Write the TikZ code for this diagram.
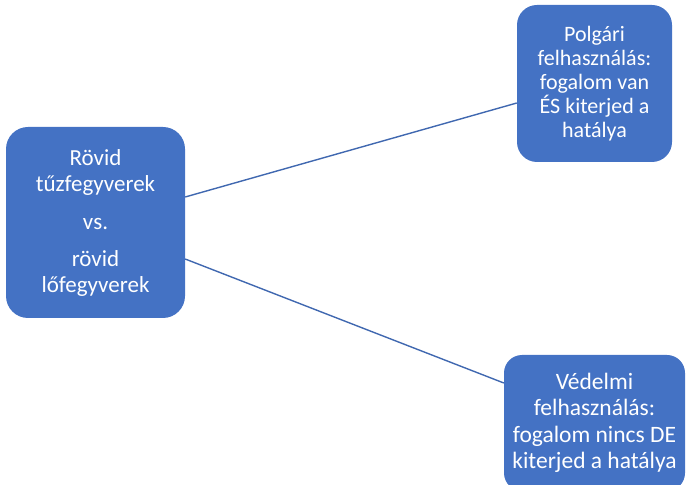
\documentclass[tikz,border=0pt]{standalone}
\usepackage{fontspec}
\setmainfont{Carlito}
\definecolor{boxblue}{HTML}{4472C4}
\definecolor{lineblue}{HTML}{4068B0}
\tikzset{
  bluebox/.style={fill=boxblue, text=white, align=center, inner sep=0pt, rounded corners=22pt},
  conn/.style={draw=lineblue, line width=1.4pt}
}
\begin{document}
\begin{tikzpicture}[x=1pt,y=1pt]
\useasboundingbox (0,0) rectangle (687,484);
\begin{scope}
\clip (0,0) rectangle (687,484);
\node[bluebox, minimum width=179pt, minimum height=191pt,
  font=\fontsize{23}{26}\selectfont] (L) at (95.5,261.5)
  {Rövid\\tűzfegyverek\\[12pt]vs.\\[11pt]rövid\\lőfegyverek};
\node[bluebox, minimum width=155pt, minimum height=157pt, rounded corners=20pt,
  font=\fontsize{22}{24}\selectfont] (T) at (594.5,400.5)
  {Polgári\\felhasználás:\\fogalom van\\ÉS kiterjed a\\hatálya};
\node[bluebox, minimum width=181pt, minimum height=136pt, rounded corners=18pt,
  font=\fontsize{23.5}{26.3}\selectfont] (B) at (594.5,61)
  {Védelmi\\felhasználás:\\fogalom nincs DE\\kiterjed a hatálya};
\draw[conn] ([yshift=25.5pt]L.east) -- ([yshift=-19.5pt]T.west);
\draw[conn] ([yshift=-36.5pt]L.east) -- ([yshift=40pt]B.west);
\end{scope}
\end{tikzpicture}
\end{document}
